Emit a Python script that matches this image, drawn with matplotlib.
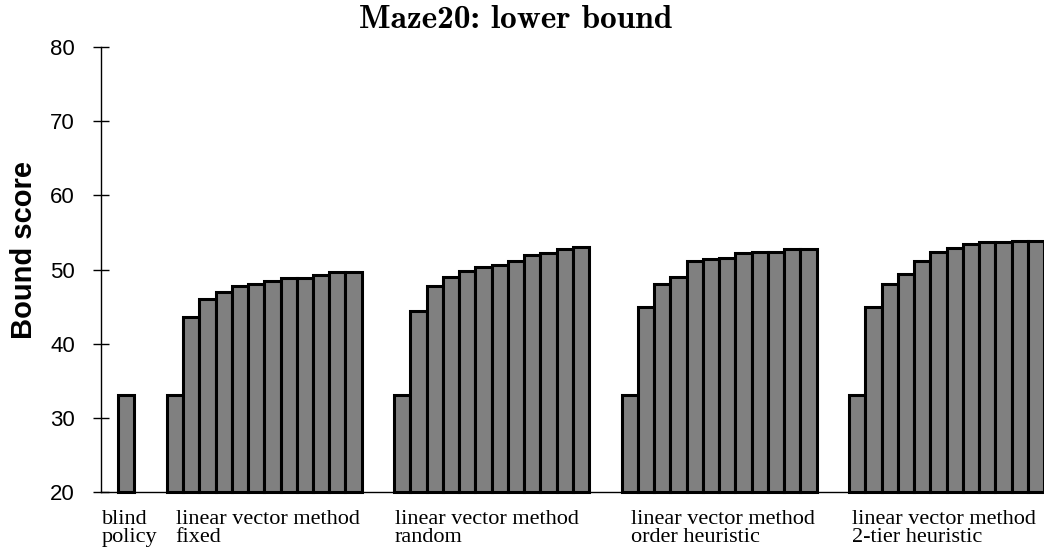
import numpy as np
from matplotlib import pyplot as plt

# lower bound scores read per run
blind = [33.1]
fixed = [33.1, 43.6, 46.0, 47.0, 47.8, 48.0, 48.5, 48.8, 48.8, 49.3, 49.6, 49.6]
random_order = [33.1, 44.4, 47.8, 49.0, 49.8, 50.3, 50.6, 51.1, 52.0, 52.2, 52.7, 53.0]
order_heur = [33.1, 44.9, 48.0, 49.0, 51.1, 51.4, 51.6, 52.2, 52.4, 52.4, 52.7, 52.7]
tier_heur = [33.1, 44.9, 48.0, 49.4, 51.2, 52.4, 52.9, 53.4, 53.7, 53.7, 53.9, 53.9]

grupos = [blind, fixed, random_order, order_heur, tier_heur]
inicios = [0, 3, 17, 31, 45]
etiquetas = ['blind\npolicy',
             'linear vector method\nfixed',
             'linear vector method\nrandom',
             'linear vector method\norder heuristic',
             'linear vector method\n2-tier heuristic']
pos_etiquetas = [-1.0, 3.55, 17.05, 31.6, 45.15]

base = 20

fig = plt.figure(figsize=(10.44, 5.52), dpi=100)
ax = fig.add_axes([101 / 1044, 60 / 552, 1 - 101 / 1044, 445 / 552])

for inicio, valores in zip(inicios, grupos):
    x = inicio + np.arange(len(valores))
    alturas = np.array(valores) - base
    ax.bar(x, alturas, bottom=base, width=1, align='edge', color='#808080',
           edgecolor='black', linewidth=2.2, zorder=3, clip_on=False)

ax.set_xlim(-1.05, 57)
ax.set_ylim(20, 80)
ax.set_yticks([20, 30, 40, 50, 60, 70, 80])

ax.spines['top'].set_visible(False)
ax.spines['right'].set_visible(False)
ax.spines['left'].set_linewidth(1.0)
ax.spines['bottom'].set_linewidth(1.0)
ax.set_xticks([])
ax.tick_params(axis='y', direction='inout', length=11.5, width=1.0, pad=13,
               labelsize=16)
for t in ax.get_yticklabels():
    t.set_fontfamily('Liberation Sans')

for xp, txt in zip(pos_etiquetas, etiquetas):
    ax.text(xp, 17.6, txt, ha='left', va='top', fontsize=16,
            family='Liberation Serif', linespacing=0.95)

fig.text(516 / 1044, 1 - 28 / 552, 'Maze20: lower bound', ha='center',
         va='baseline', fontsize=24, family='cmb10')
fig.text(24 / 1044, 1 - 250 / 552, 'Bound score', rotation=90, ha='center',
         va='center', fontsize=21, fontweight='bold', family='Liberation Sans')

fig.savefig('out.png', dpi=100)
